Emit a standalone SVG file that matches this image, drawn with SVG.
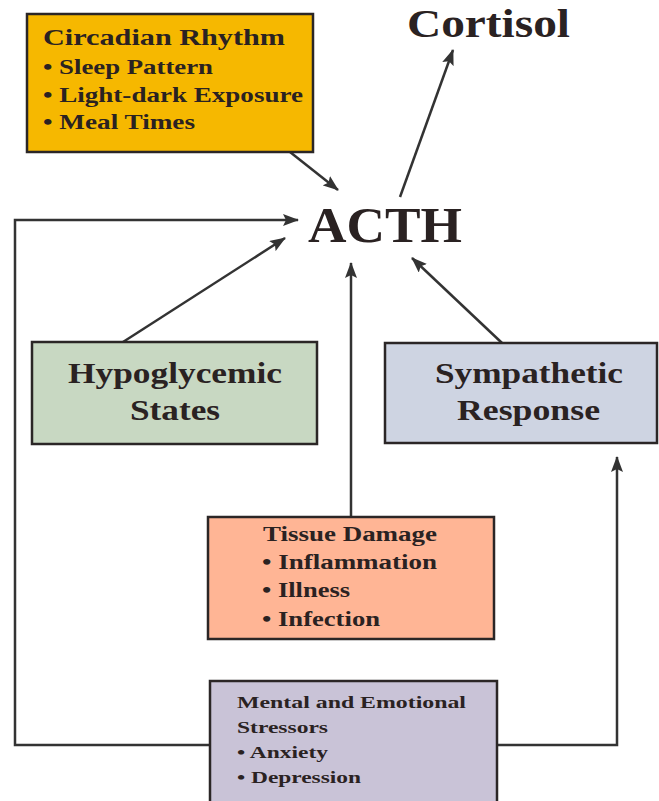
<svg xmlns="http://www.w3.org/2000/svg" width="659" height="801" viewBox="0 0 659 801">
<style>
.box{stroke:#2b2626;stroke-width:2.5}
.t{font-family:"Liberation Serif","Times New Roman",serif;font-weight:bold;fill:#2a2222}
.c{stroke:#333;stroke-width:2.5;fill:none}
</style>
<defs>
<marker id="ah" markerUnits="userSpaceOnUse" markerWidth="16" markerHeight="12" refX="15" refY="6" orient="auto">
<path d="M0,0 L16,6 L0,12 L3,6 z" fill="#333"/>
</marker>
</defs>
<rect width="659" height="801" fill="#fff"/>
<g id="connectors">
<line class="c" x1="290" y1="152" x2="338" y2="190" marker-end="url(#ah)"/>
<line class="c" x1="400" y1="197" x2="453" y2="50" marker-end="url(#ah)"/>
<line class="c" x1="123" y1="342" x2="285" y2="238" marker-end="url(#ah)"/>
<line class="c" x1="351" y1="517" x2="351" y2="263" marker-end="url(#ah)"/>
<line class="c" x1="502" y1="343" x2="412" y2="258" marker-end="url(#ah)"/>
<polyline class="c" points="210,745 15,745 15,220 298,220" marker-end="url(#ah)"/>
<polyline class="c" points="497,745 617,745 617,457" marker-end="url(#ah)"/>
</g>
<g id="circadian">
<rect class="box" x="27" y="14" width="286" height="138" fill="#F6B800"/>
<text class="t" x="43" y="45" font-size="24" textLength="242" lengthAdjust="spacingAndGlyphs">Circadian Rhythm</text>
<text class="t" x="43" y="74" font-size="21" textLength="170" lengthAdjust="spacingAndGlyphs">• Sleep Pattern</text>
<text class="t" x="43" y="102" font-size="21" textLength="260" lengthAdjust="spacingAndGlyphs">• Light-dark Exposure</text>
<text class="t" x="43" y="129" font-size="21" textLength="152" lengthAdjust="spacingAndGlyphs">• Meal Times</text>
</g>
<g id="cortisol">
<text class="t" x="407" y="37" font-size="40" textLength="163" lengthAdjust="spacingAndGlyphs">Cortisol</text>
</g>
<g id="acth">
<text class="t" x="308" y="242" font-size="51" textLength="154" lengthAdjust="spacingAndGlyphs">ACTH</text>
</g>
<g id="hypoglycemic">
<rect class="box" x="32" y="342" width="285" height="102" fill="#C8D8C2"/>
<text class="t" x="68" y="383" font-size="30" textLength="214" lengthAdjust="spacingAndGlyphs">Hypoglycemic</text>
<text class="t" x="130" y="420" font-size="30" textLength="90" lengthAdjust="spacingAndGlyphs">States</text>
</g>
<g id="sympathetic">
<rect class="box" x="385" y="343" width="272" height="100" fill="#CED4E2"/>
<text class="t" x="435" y="383" font-size="30" textLength="188" lengthAdjust="spacingAndGlyphs">Sympathetic</text>
<text class="t" x="457" y="420" font-size="30" textLength="143" lengthAdjust="spacingAndGlyphs">Response</text>
</g>
<g id="tissue">
<rect class="box" x="208" y="517" width="286" height="122" fill="#FFB595"/>
<text class="t" x="263" y="541" font-size="20" textLength="174" lengthAdjust="spacingAndGlyphs">Tissue Damage</text>
<text class="t" x="262" y="569" font-size="20" textLength="175" lengthAdjust="spacingAndGlyphs">• Inflammation</text>
<text class="t" x="262" y="597" font-size="20" textLength="88" lengthAdjust="spacingAndGlyphs">• Illness</text>
<text class="t" x="262" y="626" font-size="20" textLength="118" lengthAdjust="spacingAndGlyphs">• Infection</text>
</g>
<g id="stressors">
<rect class="box" x="210" y="681" width="287" height="125" fill="#C9C3D7"/>
<text class="t" x="237" y="708" font-size="17" textLength="229" lengthAdjust="spacingAndGlyphs">Mental and Emotional</text>
<text class="t" x="237" y="733" font-size="17" textLength="91" lengthAdjust="spacingAndGlyphs">Stressors</text>
<text class="t" x="237" y="758" font-size="17" textLength="91" lengthAdjust="spacingAndGlyphs">• Anxiety</text>
<text class="t" x="237" y="783" font-size="17" textLength="124" lengthAdjust="spacingAndGlyphs">• Depression</text>
</g>
</svg>
